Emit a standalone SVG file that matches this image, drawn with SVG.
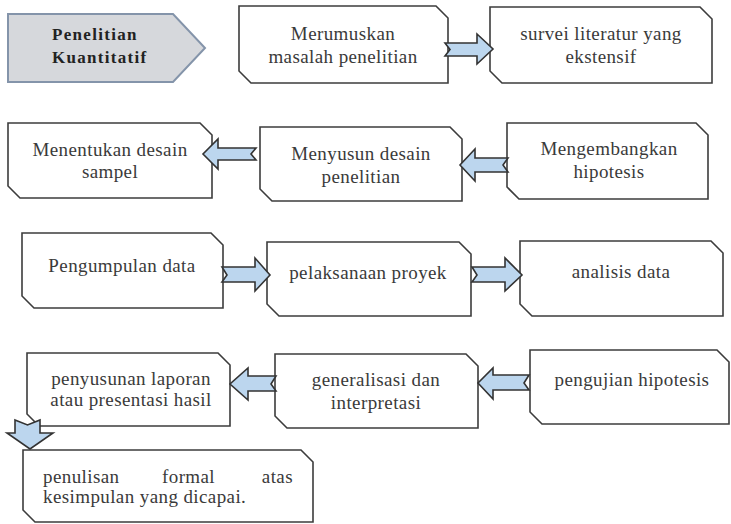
<svg xmlns="http://www.w3.org/2000/svg" width="731" height="524" viewBox="0 0 731 524">
<style>
.n{fill:#fff;stroke:#3c3c3c;stroke-width:1.6}
.t{font-size:19px;fill:#3a3a3a;letter-spacing:0.4px;text-anchor:middle}
.h{font-size:17px;font-weight:bold;fill:#222;letter-spacing:1.3px}
.a{fill:#bcd6ee;stroke:#333;stroke-width:1.6;stroke-linejoin:miter}
</style>
<rect width="731" height="524" fill="#fff"/>
<g font-family="Liberation Serif, Times New Roman, DejaVu Serif, serif">
<g id="header">
<path d="M8,14 H173 L205,48 L173,82 H8 Z" fill="#d6d8dc" stroke="#8494aa" stroke-width="2"/>
<text class="h" x="52" y="40">Penelitian</text>
<text class="h" x="52" y="63">Kuantitatif</text>
</g>
<g id="n1"><path class="n" d="M239,6 H436 L448,18 V83 H251 L239,71 Z"/>
<text class="t" x="343" y="40">Merumuskan</text><text class="t" x="343" y="63">masalah penelitian</text></g>
<g id="n2"><path class="n" d="M490,7 H700 L712,19 V83 H502 L490,71 Z"/>
<text class="t" x="601" y="40">survei literatur yang</text><text class="t" x="601" y="63">ekstensif</text></g>
<g id="n3"><path class="n" d="M8,123 H200 L212,135 V198 H20 L8,186 Z"/>
<text class="t" x="110" y="156">Menentukan desain</text><text class="t" x="110" y="178">sampel</text></g>
<g id="n4"><path class="n" d="M260,127 H450 L462,139 V201 H272 L260,189 Z"/>
<text class="t" x="361" y="160">Menyusun desain</text><text class="t" x="361" y="183">penelitian</text></g>
<g id="n5"><path class="n" d="M507,123 H696 L708,135 V199 H519 L507,187 Z"/>
<text class="t" x="609" y="155">Mengembangkan</text><text class="t" x="609" y="178">hipotesis</text></g>
<g id="n6"><path class="n" d="M22,233 H211 L223,245 V308 H34 L22,296 Z"/>
<text class="t" x="122" y="272">Pengumpulan data</text></g>
<g id="n7"><path class="n" d="M267,242 H459 L471,254 V316 H279 L267,304 Z"/>
<text class="t" x="368" y="279">pelaksanaan proyek</text></g>
<g id="n8"><path class="n" d="M520,241 H711 L723,253 V316 H532 L520,304 Z"/>
<text class="t" x="621" y="278">analisis data</text></g>
<g id="n9"><path class="n" d="M27,353 H218 L230,365 V426 H39 L27,414 Z"/>
<text class="t" x="131" y="385">penyusunan laporan</text><text class="t" x="131" y="406">atau presentasi hasil</text></g>
<g id="n10"><path class="n" d="M275,354 H466 L478,366 V428 H287 L275,416 Z"/>
<text class="t" x="376" y="386">generalisasi dan</text><text class="t" x="376" y="409">interpretasi</text></g>
<g id="n11"><path class="n" d="M530,350 H717 L729,362 V424 H542 L530,412 Z"/>
<text class="t" x="632" y="386">pengujian hipotesis</text></g>
<g id="n12"><path class="n" d="M23,450 H301 L313,462 V522 H35 L23,510 Z"/>
<text class="t" x="43" y="483" text-anchor="start" style="text-anchor:start">penulisan</text>
<text class="t" x="162" y="483" style="text-anchor:start">formal</text>
<text class="t" x="293" y="483" style="text-anchor:end">atas</text>
<text class="t" x="43" y="503" style="text-anchor:start">kesimpulan yang dicapai.</text></g>
</g>
<g id="connectors">
<path class="a" d="M445,43 H477 V34 L493,49 L477,64 V56 H445 L450,49.5 Z"/>
<path class="a" d="M256,148 H218 V139 L203,154 L218,169 V160 H256 L251,154 Z"/>
<path class="a" d="M508,158 H475 V149 L460,165 L475,181 V172 H508 L503,165 Z"/>
<path class="a" d="M222,267 H255 V258 L270,275 L255,291 V282 H222 L227,275 Z"/>
<path class="a" d="M472,267 H505 V258 L522,275 L505,291 V282 H472 L477,275 Z"/>
<path class="a" d="M276,376 H248 V368 L230,384 L248,400 V391 H276 L271,384 Z"/>
<path class="a" d="M529,375 H493 V368 L478,383 L493,399 V390 H529 L524,383 Z"/>
<path class="a" d="M15,420 L27.5,425 L40,420 V433 H53 L30,449 L7,433 H15 Z"/>
</g>
</svg>
